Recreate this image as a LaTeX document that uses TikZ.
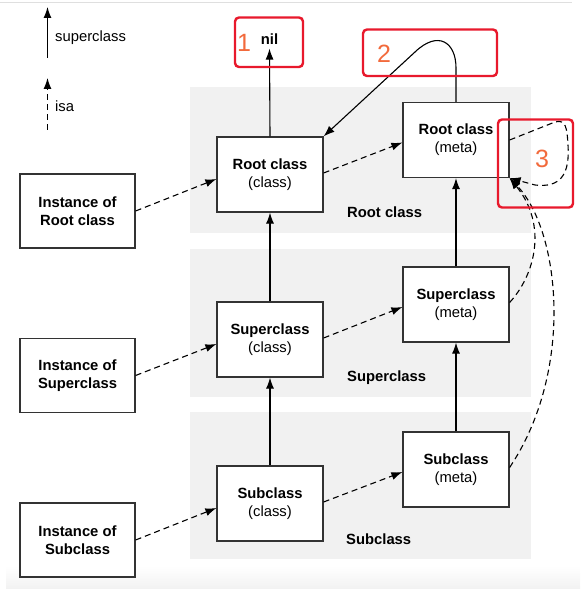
\documentclass[tikz,border=0pt]{standalone}
\usepackage{fontspec}
\setmainfont{Liberation Sans}
\usetikzlibrary{arrows.meta}
\definecolor{panel}{HTML}{F1F1F1}
\definecolor{redbox}{HTML}{E8192C}
\definecolor{numc}{HTML}{F26A3C}
\begin{document}
\begin{tikzpicture}[x=1pt,y=-1pt,
  cbox/.style={draw=black!80, line width=1.2pt, fill=white, minimum width=106pt,
    minimum height=75pt, align=center, inner sep=0pt, font=\fontsize{14.8}{18}\selectfont},
  ibox/.style={cbox, minimum width=115pt, minimum height=74pt},
  supa/.style={line width=1.1pt, -{Latex[length=11pt,width=8pt]}},
  isaa/.style={line width=1.1pt, dash pattern=on 6pt off 4pt, -{Latex[length=11pt,width=8pt]}},
  plabel/.style={anchor=base west, inner sep=0pt, font=\fontsize{14.8}{18}\selectfont\bfseries},
  legend/.style={anchor=base west, inner sep=0pt, font=\fontsize{14.8}{18}\selectfont},
  mark box/.style={draw=redbox, line width=2.4pt, rounded corners=4pt},
  num/.style={text=numc, inner sep=0pt, font=\fontsize{25}{28}\selectfont}]
\useasboundingbox (0,0) rectangle (580,596);
% frame hints
\draw[gray!25, line width=1pt] (0,2.5) -- (572,2.5);
\shade[top color=white, bottom color=gray!10] (6,566) rectangle (580,588);
% panels
\fill[panel] (190,87) rectangle (531,233);
\fill[panel] (190,249) rectangle (531,397);
\fill[panel] (190,412) rectangle (531,559);
\node[plabel] (lroot) at (347,217.5) {Root class};
\node[plabel] (lsuper) at (347,381) {Superclass};
\node[plabel] (lsub) at (346,544) {Subclass};
% legend
\coordinate (ls0) at (47.5,58);
\coordinate (ls1) at (47.5,7);
\draw[supa] (ls0) -- (ls1);
\node[legend] (lsup) at (55,42) {superclass};
\coordinate (li0) at (47.5,130);
\coordinate (li1) at (47.5,78);
\draw[isaa] (li0) -- (li1);
\node[legend] (lisa) at (55,112) {isa};
% boxes
\node[cbox] (rc) at (270,174.5) {\textbf{Root class}\\(class)};
\node[cbox] (rm) at (456,140) {\textbf{Root class}\\(meta)};
\node[cbox] (src) at (270,339.5) {\textbf{Superclass}\\(class)};
\node[cbox] (sm) at (456,304.5) {\textbf{Superclass}\\(meta)};
\node[cbox] (ssc) at (270,503.5) {\textbf{Subclass}\\(class)};
\node[cbox] (ssm) at (456,469.5) {\textbf{Subclass}\\(meta)};
\node[ibox] (ir) at (77.5,211) {\textbf{Instance of}\\\textbf{Root class}};
\node[ibox] (is) at (77.5,375.5) {\textbf{Instance of}\\\textbf{Superclass}};
\node[ibox] (iss) at (77.5,540) {\textbf{Instance of}\\\textbf{Subclass}};
\node[inner sep=0pt, font=\fontsize{14.8}{18}\selectfont\bfseries] (nil) at (269.5,39) {nil};
% superclass arrows
\draw[supa] (rc.north) -- ([yshift=-4pt]nil.south);
\draw[supa] (src.north) -- (rc.south);
\draw[supa] (ssc.north) -- (src.south);
\draw[supa] (sm.north) -- (rm.south);
\draw[supa] (ssm.north) -- (sm.south);
\draw[supa] (rm.north) -- (456,68) .. controls (456,42) and (438,30) .. (415,52) -- (rc.north east);
% isa arrows
\draw[isaa] (ir.east) -- ([yshift=-4.5pt]rc.west);
\draw[isaa] (is.east) -- ([yshift=-4.5pt]src.west);
\draw[isaa] (iss.east) -- ([yshift=-4.5pt]ssc.west);
\draw[isaa] ([yshift=1.5pt]rc.east) -- ([yshift=-2.5pt]rm.west);
\draw[isaa] ([yshift=1.5pt]src.east) -- ([yshift=-2.5pt]sm.west);
\draw[isaa] ([yshift=1.5pt]ssc.east) -- ([yshift=-2.5pt]ssm.west);
\draw[isaa] (rm.east) -- (555,122) .. controls (566,119) and (567,128) .. (568,145)
   .. controls (570,175) and (560,188) .. (535,185) -- (rm.south east);
\draw[isaa] ([yshift=2pt]sm.east) .. controls (535,275) and (548,225) .. (rm.south east);
\draw[isaa] ([yshift=2pt]ssm.east) .. controls (575,370) and (560,230) .. (rm.south east);
% highlight marks
\draw[mark box] (235,17.5) rectangle (303,67);
\draw[mark box] (363,29.5) rectangle (497,76);
\draw[mark box] (498,119.5) rectangle (573,207.5);
\node[num] (n1) at (244,43) {1};
\node[num] (n2) at (384,53.5) {2};
\node[num] (n3) at (542,158.5) {3};
\end{tikzpicture}
\end{document}
